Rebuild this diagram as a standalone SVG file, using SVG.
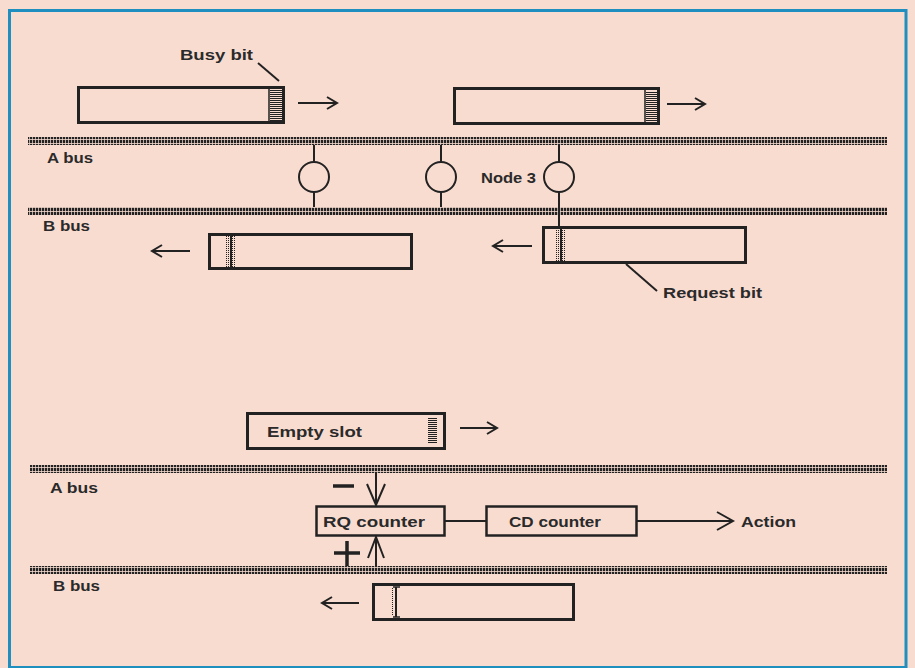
<svg xmlns="http://www.w3.org/2000/svg" width="915" height="668" viewBox="0 0 915 668">
<defs>
<pattern id="bus" width="3" height="4" patternUnits="userSpaceOnUse">
<rect x="0" y="0" width="2.3" height="3.2" fill="#222"/>
</pattern>
<pattern id="hstripe" width="4" height="2" patternUnits="userSpaceOnUse">
<rect x="0" y="0" width="4" height="1" fill="#222"/>
</pattern>
<pattern id="vdot" width="2" height="2" patternUnits="userSpaceOnUse">
<rect x="0" y="0" width="1" height="1" fill="#222"/>
</pattern>
</defs>
<style>
.bg{fill:#f9dcd0}
.frame{fill:none;stroke:#1f8fc0;stroke-width:3}
.bus{fill:url(#bus)}
.box{fill:none;stroke:#222;stroke-width:3}
.ln{fill:none;stroke:#222;stroke-width:2}
.thick{fill:none;stroke:#222;stroke-width:3.5}
.t{font-family:"Liberation Sans",Arial,sans-serif;font-weight:bold;font-size:15.5px;fill:#2a2a2a}
</style>
<rect class="bg" x="0" y="0" width="915" height="668"/>
<rect class="frame" x="9.5" y="10.5" width="896.5" height="657"/>

<g id="buses">
<rect id="a-bus-top" class="bus" x="28" y="137" width="859" height="8"/>
<rect id="b-bus-top" class="bus" x="28" y="207" width="859" height="8"/>
<rect id="a-bus-bottom" class="bus" x="30" y="465" width="857" height="8"/>
<rect id="b-bus-bottom" class="bus" x="30" y="566" width="857" height="8"/>
<text class="t" x="47" y="163" textLength="46" lengthAdjust="spacingAndGlyphs">A bus</text>
<text class="t" x="43" y="231" textLength="47" lengthAdjust="spacingAndGlyphs">B bus</text>
<text class="t" x="50" y="493" textLength="48" lengthAdjust="spacingAndGlyphs">A bus</text>
<text class="t" x="53" y="591" textLength="47" lengthAdjust="spacingAndGlyphs">B bus</text>
</g>

<g id="slot-a1">
<rect class="box" x="78.5" y="87.5" width="205" height="35"/>
<line x1="269" y1="89" x2="269" y2="121" stroke="#222" stroke-width="1.5"/>
<rect x="270" y="90" width="12" height="31" fill="url(#hstripe)"/>
</g>
<g id="busy-bit-label">
<text class="t" x="180" y="60" textLength="73" lengthAdjust="spacingAndGlyphs">Busy bit</text>
</g>
<g id="slot-a2">
<rect class="box" x="454.5" y="88.5" width="204" height="35"/>
<line x1="645" y1="90" x2="645" y2="122" stroke="#222" stroke-width="1.5"/>
<rect x="646" y="91" width="11" height="31" fill="url(#hstripe)"/>
</g>

<g id="node1"><circle cx="314" cy="177" r="15" class="ln"/></g>
<g id="node2"><circle cx="441" cy="177" r="15" class="ln"/></g>
<g id="node3"><circle cx="559" cy="177" r="15" class="ln"/>
<text class="t" x="481" y="183" textLength="55" lengthAdjust="spacingAndGlyphs">Node 3</text></g>

<g id="slot-b1">
<rect class="box" x="209.5" y="234.5" width="202" height="34"/>
<rect x="226" y="236" width="10" height="31" fill="url(#vdot)"/>
<line x1="231" y1="236" x2="231" y2="267" stroke="#222" stroke-width="2"/>
</g>
<g id="slot-b2">
<rect class="box" x="543.5" y="227.5" width="202" height="35"/>
<rect x="555" y="229" width="11" height="32" fill="url(#vdot)"/>
<line x1="561" y1="229" x2="561" y2="261" stroke="#222" stroke-width="2"/>
</g>
<g id="request-bit-label">
<text class="t" x="663" y="298" textLength="99" lengthAdjust="spacingAndGlyphs">Request bit</text>
</g>

<g id="empty-slot">
<rect class="box" x="247.5" y="413.5" width="197" height="35"/>
<text class="t" x="267" y="437" textLength="95" lengthAdjust="spacingAndGlyphs">Empty slot</text>
<rect x="428" y="418" width="9" height="26" fill="url(#hstripe)"/>
</g>

<g id="rq-counter">
<rect x="316.5" y="506.5" width="128" height="29" fill="none" stroke="#222" stroke-width="2.5"/>
<text class="t" x="323" y="527" textLength="102" lengthAdjust="spacingAndGlyphs">RQ counter</text>
</g>
<g id="cd-counter">
<rect x="486.5" y="506.5" width="150" height="29" fill="none" stroke="#222" stroke-width="2.5"/>
<text class="t" x="509" y="527" textLength="92" lengthAdjust="spacingAndGlyphs">CD counter</text>
</g>
<g id="action">
<text class="t" x="741" y="527" textLength="55" lengthAdjust="spacingAndGlyphs">Action</text>
</g>
<g id="minus"><line class="thick" x1="333" y1="486" x2="354" y2="486"/></g>
<g id="plus"><line class="thick" x1="334" y1="553" x2="360" y2="553"/><line class="thick" x1="347" y1="541" x2="347" y2="566"/></g>

<g id="slot-b3">
<rect class="box" x="373.5" y="584.5" width="200" height="35"/>
<rect x="391" y="588" width="3" height="28" fill="url(#vdot)"/>
<line x1="396" y1="587" x2="396" y2="617" stroke="#222" stroke-width="2"/>
<line x1="393" y1="587" x2="400" y2="587" stroke="#222" stroke-width="1.5"/>
<line x1="393" y1="617" x2="400" y2="617" stroke="#222" stroke-width="1.5"/>
</g>

<g id="connectors">
<polyline class="ln" points="258,63 279,81"/>
<polyline class="ln" points="298,103 337,103"/>
<polyline class="ln" points="327,97 337,103 327,109"/>
<polyline class="ln" points="667,104 705,104"/>
<polyline class="ln" points="695,98 705,104 695,110"/>
<polyline class="ln" points="314,145 314,162"/>
<polyline class="ln" points="314,192 314,207"/>
<polyline class="ln" points="441,145 441,162"/>
<polyline class="ln" points="441,192 441,207"/>
<polyline class="ln" points="559,145 559,162"/>
<polyline class="ln" points="559,192 559,227"/>
<polyline class="ln" points="152,251 190,251"/>
<polyline class="ln" points="162,245 152,251 162,257"/>
<polyline class="ln" points="493,246 532,246"/>
<polyline class="ln" points="503,240 493,246 503,252"/>
<polyline class="ln" points="626,264 657,291"/>
<polyline class="ln" points="460,428 497,428"/>
<polyline class="ln" points="487,422 497,428 487,434"/>
<polyline class="ln" points="376,473 376,505"/>
<polyline class="ln" stroke-width="2.5" points="367,484 376,505 385,484"/>
<polyline class="ln" points="376,566 376,537"/>
<polyline class="ln" stroke-width="2.5" points="368,558 376,537 384,558"/>
<polyline class="ln" points="444,521 486,521"/>
<polyline class="ln" points="636,521 732,521"/>
<polyline class="ln" stroke-width="2.5" points="717,512 733,521 717,530"/>
<polyline class="ln" points="322,603 359,603"/>
<polyline class="ln" points="332,597 322,603 332,609"/>
</g>
</svg>
